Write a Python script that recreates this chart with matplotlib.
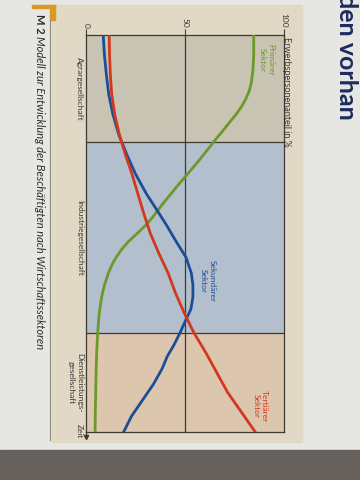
import matplotlib
matplotlib.use('Agg')
import matplotlib.pyplot as plt
from matplotlib.patches import Rectangle

plt.rcParams['font.family'] = ['Lato', 'DejaVu Sans']

# time axis (0 = start, 100 = end) and share of workforce in %
time_primary = [0, 5, 9, 12, 14, 16, 18, 20, 22, 24, 26, 28, 30, 32, 34, 36, 38, 40, 42, 44,
                46, 48, 50, 52, 54, 56, 58, 60, 63, 66, 70, 75, 80, 85, 90, 95, 100]
share_primary = [84.7, 84.7, 84.3, 83.5, 82.5, 80.8, 78.6, 75.8, 72.5, 69.3, 66.0, 62.8, 59.6,
                 56.4, 53.0, 49.6, 46.2, 42.9, 39.6, 36.5, 33.5, 30.0, 25.8, 21.5, 18.0, 15.2,
                 13.0, 11.3, 9.3, 7.9, 6.7, 5.9, 5.4, 5.1, 4.9, 4.7, 4.6]

time_secondary = [0, 5, 10, 15, 20, 25, 30, 35, 40, 44, 48, 52, 56, 60, 63, 66, 69, 72, 75,
                  78, 81, 84, 88, 92, 96, 100]
share_secondary = [8.7, 9.3, 10.3, 11.5, 13.6, 16.5, 20.5, 25.0, 30.5, 35.7, 40.8, 45.5, 50.5,
                   53.2, 54.0, 54.0, 53.0, 50.2, 47.5, 44.5, 41.0, 38.5, 34.0, 28.5, 23.0, 19.0]

time_tertiary = [0, 5, 10, 15, 20, 25, 30, 35, 40, 45, 50, 55, 60, 65, 70, 75, 80, 85, 90, 95, 100]
share_tertiary = [11.7, 11.9, 12.3, 13.0, 14.5, 16.8, 19.8, 23.2, 26.2, 29.2, 32.5, 36.8, 41.5,
                  45.2, 49.6, 54.5, 60.5, 66.0, 71.5, 78.5, 85.5]

# phases of society (start, end on the time axis)
phases = ['Agrargesellschaft', 'Industriegesellschaft', 'Dienstleistungs-\ngesellschaft']
phase_edges = [0, 27, 75, 100]
phase_colors = ['#c8c3b2', '#b3bfcc', '#ddc6ae']

line_dark = '#3d3935'
green = '#6b9a2c'
blue = '#1d4d96'
red = '#d2381f'

fig = plt.figure(figsize=(3.6, 4.8), dpi=100)

# page background drawn in pixel coordinates
bg = fig.add_axes([0, 0, 1, 1])
bg.set_xlim(0, 360)
bg.set_ylim(480, 0)
bg.axis('off')
bg.add_patch(Rectangle((0, 0), 360, 480, color='#e6e6e3'))
bg.add_patch(Rectangle((52, 5), 250, 437, color='#e1d9c6'))
bg.add_patch(Rectangle((0, 450), 360, 30, color='#67615e'))
bg.add_patch(Rectangle((32, 5), 23, 3, color='#d89a22'))
bg.add_patch(Rectangle((50, 5), 5, 15, color='#d89a22'))
bg.plot([50, 50], [20, 440], color='#8a8680', lw=0.8)
bg.text(40, 14, 'M 2', rotation=-90, rotation_mode='anchor', ha='left', va='center',
        fontsize=8, fontweight='bold', color='#2e2c2a')
bg.text(40, 36, 'Modell zur Entwicklung der Beschäftigten nach Wirtschaftssektoren',
        rotation=-90, rotation_mode='anchor', ha='left', va='center',
        fontsize=8, style='italic', color='#2e2c2a')
# heading of the page, cut off by the photo edge
bg.text(339, -6, 'den vorhan', rotation=-90, rotation_mode='anchor', ha='left',
        va='baseline', fontsize=18, fontweight='bold', color='#1c2a5e')

ax = fig.add_axes([86 / 360, 1 - 432 / 480, 198 / 360, 397 / 480])
ax.set_facecolor('none')
ax.set_xlim(0, 100)
ax.set_ylim(100, 0)

for i in range(len(phases)):
    ax.axhspan(phase_edges[i], phase_edges[i + 1], color=phase_colors[i], lw=0, zorder=0)
    ax.text(-1.5, (phase_edges[i] + phase_edges[i + 1]) / 2, phases[i], rotation=-90,
            rotation_mode='anchor', ha='center', va='top', fontsize=6,
            color='#3a3633', clip_on=False)

for edge in phase_edges[1:-1]:
    ax.axhline(edge, color=line_dark, lw=0.9, zorder=1)
ax.axvline(50, color=line_dark, lw=0.9, zorder=1)

ax.plot(share_primary, time_primary, color=green, lw=2.0, zorder=3)
ax.plot(share_secondary, time_secondary, color=blue, lw=2.0, zorder=3)
ax.plot(share_tertiary, time_tertiary, color=red, lw=2.0, zorder=3)

ax.text(91, 6.3, 'Primärer\nSektor', rotation=-90, rotation_mode='anchor', ha='center',
        va='center', fontsize=6, color=green)
ax.text(61.5, 62, 'Sekundärer\nSektor', rotation=-90, rotation_mode='anchor', ha='center',
        va='center', fontsize=6, color=blue)
ax.text(88, 93.5, 'Tertiärer\nSektor', rotation=-90, rotation_mode='anchor', ha='center',
        va='center', fontsize=6, color=red)

ax.text(101.5, 0.6, 'Erwerbspersonenanteil in %', rotation=-90, rotation_mode='anchor',
        ha='left', va='center', fontsize=6.5, color='#3a3633', clip_on=False)
ax.text(-1.5, 101.5, 'Zeit', rotation=-90, rotation_mode='anchor', ha='right', va='top',
        fontsize=6, color='#3a3633', clip_on=False)
ax.plot([0, 0], [100, 101.2], color=line_dark, lw=0.9, clip_on=False)
ax.plot(0, 101.2, marker='v', ms=3, color=line_dark, clip_on=False)

ax.xaxis.tick_top()
ax.set_xticks([0, 50, 100])
ax.set_xticklabels(['0', '50', '100'], rotation=-90)
ax.tick_params(axis='x', direction='out', length=4, width=0.8, colors=line_dark,
               labelsize=6, pad=1)
ax.set_yticks([])
for s in ax.spines.values():
    s.set_color(line_dark)
    s.set_linewidth(0.9)

fig.savefig('out.png', dpi=100)
